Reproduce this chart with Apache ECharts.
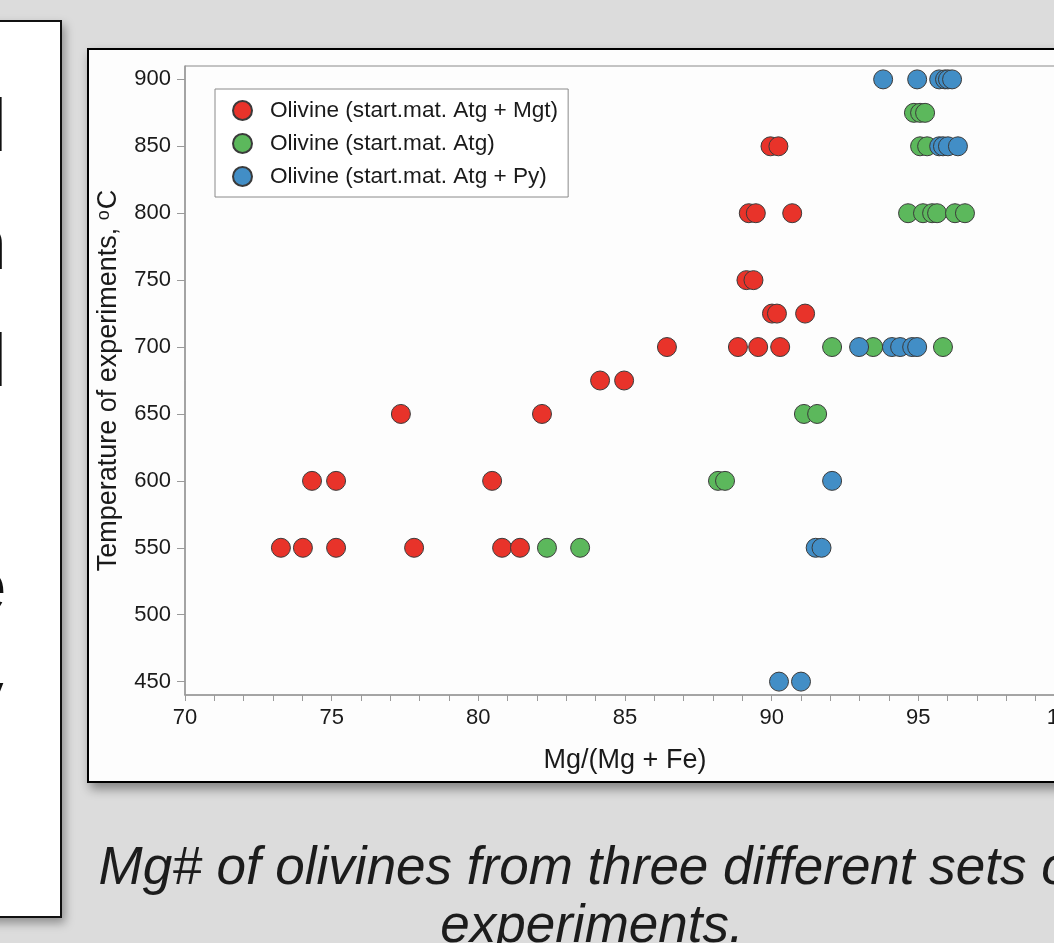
<!DOCTYPE html>
<html>
<head>
<meta charset="utf-8">
<script src="https://cdn.jsdelivr.net/npm/echarts@6.0.0/dist/echarts.min.js"></script>
<style>
  html, body { margin:0; padding:0; }
  body { width:1054px; height:943px; overflow:hidden; background:#dcdcdc; position:relative; font-family:"Liberation Sans", Arial, sans-serif; }
  #leftbox { position:absolute; left:-20px; top:20px; width:78px; height:894px; background:#fff; border:2px solid #111; box-shadow:3px 5px 9px rgba(0,0,0,0.35); overflow:hidden; }
  .frag { position:absolute; font-size:75px; line-height:75px; color:#111; }
  #chartbox { position:absolute; left:87px; top:48px; width:1020px; height:731px; background:#fdfdfd; border:2.5px solid #000; box-shadow:3px 6px 10px rgba(0,0,0,0.4); }
  #caption { position:absolute; left:92px; top:837px; width:1000px; text-align:center; font-size:53px; line-height:58px; font-style:italic; font-weight:300; color:#1c1c1c; font-family:"Liberation Sans", Arial, sans-serif; white-space:nowrap; }
  #chart { position:absolute; left:0; top:0; width:1054px; height:943px; }
</style>
</head>
<body>
<div id="leftbox">
  <span class="frag" style="left:8px; top:66px;">l</span>
  <span class="frag" style="left:-17px; top:184px;">n</span>
  <span class="frag" style="left:8px; top:301px;">l</span>
  <span class="frag" style="left:-17px; top:526px;">e</span>
  <span class="frag" style="left:-16px; top:637px;">y</span>
</div>
<div id="chartbox"></div>
<div id="caption">Mg# of olivines from three different sets of<br>experiments.</div>
<div id="chart"></div>
<script>
// ---- data (Mg/(Mg+Fe), temperature °C) ----
const seriesNames = [
  'Olivine (start.mat. Atg + Mgt)',
  'Olivine (start.mat. Atg)',
  'Olivine (start.mat. Atg + Py)'
];
const atgMgt = [
  [73.27,550],[74.02,550],[75.15,550],[77.81,550],[80.81,550],[81.42,550],
  [74.33,600],[75.15,600],[80.47,600],
  [77.36,650],[82.17,650],
  [84.15,675],[84.97,675],
  [86.43,700],[88.85,700],[89.54,700],[90.29,700],
  [90.01,725],[90.18,725],[91.14,725],
  [89.14,750],[89.38,750],
  [89.22,800],[89.46,800],[90.70,800],
  [89.96,850],[90.23,850]
];
const atg = [
  [82.34,550],[83.47,550],
  [88.17,600],[88.41,600],
  [91.10,650],[91.55,650],
  [92.06,700],[93.46,700],[95.84,700],
  [94.65,800],[95.16,800],[95.47,800],[95.64,800],[96.25,800],[96.59,800],
  [95.06,850],[95.30,850],
  [94.85,875],[95.06,875],[95.23,875]
];
const atgPy = [
  [90.25,450],[91.00,450],
  [91.50,550],[91.70,550],
  [92.06,600],
  [92.98,700],[94.10,700],[94.38,700],[94.79,700],[94.96,700],
  [95.71,850],[95.84,850],[96.01,850],[96.35,850],
  [93.80,900],[94.96,900],[95.71,900],[95.91,900],[96.01,900],[96.15,900]
];
const yTickValues = [450,500,550,600,650,700,750,800,850,900];
const colors = ['#e8332a', '#5cb85c', '#428ec6'];
const xName = 'Mg/(Mg + Fe)';
const yName = 'Temperature of experiments, {sup|o}C';

const chart = echarts.init(document.getElementById('chart'), null, {renderer:'canvas'});
const font = 'Liberation Sans';
const axisGray = '#9a9a9a';
const makeSeries = (name, data, color) => ({
  name, type:'scatter', data, symbol:'circle', symbolSize:19,
  itemStyle:{ color, borderColor:'#3a3a3a', borderWidth:1, opacity:1 },
  emphasis:{ disabled:true }, animation:false
});
chart.setOption({
  animation:false,
  grid:{ left:185, top:66, width:880, height:629, show:true, borderColor:'#8a8a8a', borderWidth:1, backgroundColor:'transparent', outerBoundsMode:'none', containLabel:false },
  legend:{
    orient:'vertical', left:215, top:89, padding:[10,10,9,17], itemGap:10,
    itemWidth:19, itemHeight:19, borderColor:'#8a8a8a', borderWidth:1, backgroundColor:'#fff',
    textStyle:{ fontFamily:font, fontSize:22.6, color:'#1a1a1a', padding:[0,0,0,13] },
    data:seriesNames
  },
  xAxis:{
    type:'value', min:70, max:100, interval:5,
    name:xName, nameLocation:'middle', nameGap:52,
    nameTextStyle:{ fontFamily:font, fontSize:27, color:'#1a1a1a' },
    axisLine:{ show:true, onZero:false, lineStyle:{ color:axisGray, width:1.5 } },
    axisTick:{ show:true, inside:false, length:6, lineStyle:{ color:axisGray } },
    minorTick:{ show:true, splitNumber:5, length:6, lineStyle:{ color:axisGray } },
    axisLabel:{ fontFamily:font, fontSize:22, color:'#1a1a1a', margin:12 },
    splitLine:{ show:false }
  },
  yAxis:{
    type:'value', min:440, max:910,
    name:yName, nameLocation:'middle', nameGap:61,
    nameTextStyle:{ fontFamily:font, fontSize:27, color:'#1a1a1a',
      rich:{ sup:{ fontFamily:font, fontSize:18, color:'#1a1a1a', verticalAlign:'top', lineHeight:27, padding:[0,1,10,0] } } },
    axisLine:{ show:true, onZero:false, lineStyle:{ color:axisGray, width:1.5 } },
    axisTick:{ show:true, inside:false, length:8, lineStyle:{ color:axisGray }, customValues:yTickValues },
    axisLabel:{ fontFamily:font, fontSize:22, color:'#1a1a1a', margin:14, customValues:yTickValues },
    splitLine:{ show:false }
  },
  series:[
    makeSeries(seriesNames[0], atgMgt, colors[0]),
    makeSeries(seriesNames[1], atg, colors[1]),
    makeSeries(seriesNames[2], atgPy, colors[2])
  ]
});
</script>
</body>
</html>
